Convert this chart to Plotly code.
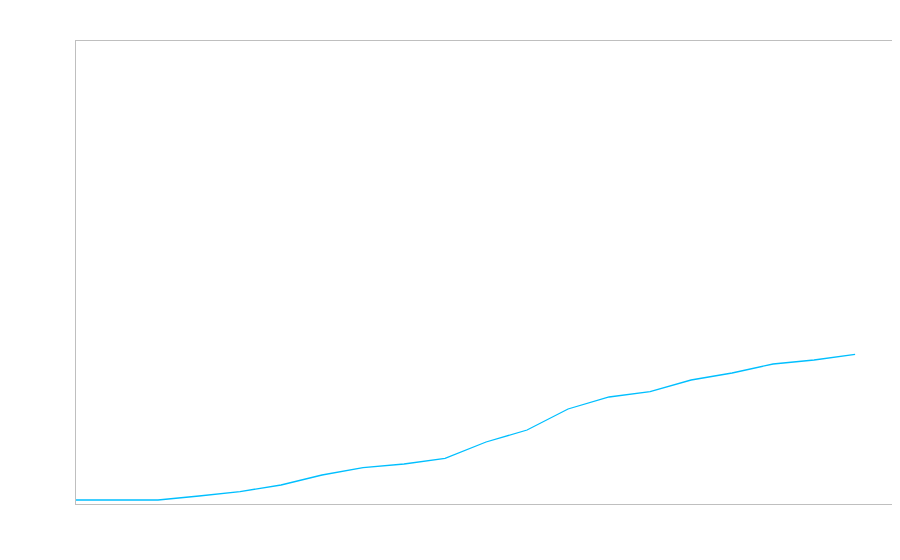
import plotly.graph_objects as go

x_vals = list(range(20))
y_vals = [0, 0, 0, 1, 2.1, 3.75, 6.25, 8.1, 9, 10.4, 14.5, 17.5, 22.75, 25.75, 27.1, 30, 31.75, 34, 35, 36.4]

fig = go.Figure()
fig.add_trace(go.Scatter(x=x_vals, y=y_vals, mode="lines",
                         line=dict(color="#00bfff", width=1.3), showlegend=False,
                         hoverinfo="skip"))

axis_style = dict(showgrid=False, zeroline=False, showticklabels=False, ticks="",
                  showline=True, linecolor="#bfbfbf", linewidth=1, mirror=True)
fig.update_layout(
    width=900, height=560,
    margin=dict(l=68, r=16, t=33, b=64),
    paper_bgcolor="white", plot_bgcolor="white",
    xaxis=dict(range=[0, 19.9], **axis_style),
    yaxis=dict(range=[-1, 114.75], **axis_style),
)
fig.write_html("out.html")
